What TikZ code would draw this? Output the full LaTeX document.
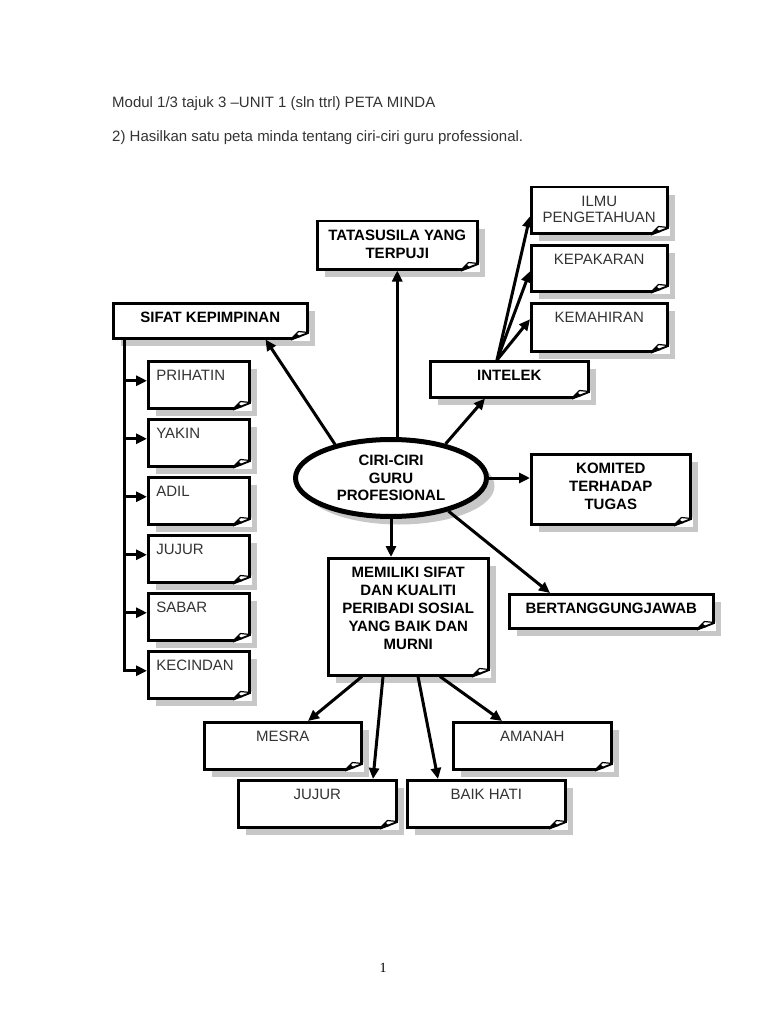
\documentclass[tikz,border=0pt]{standalone}
\usepackage{fontspec}
\setmainfont{Liberation Sans}
\newfontfamily\pagefont{Liberation Serif}
\usepackage{tikz}
\usetikzlibrary{positioning}
\usetikzlibrary{shapes.geometric, arrows.meta, shadows}

\tikzset{
    shad/.style={drop shadow={shadow xshift=8pt, shadow yshift=-8pt, fill=black!22, opacity=1}},
    box/.style={draw, fill=white, line width=2.5pt, anchor=north west, inner sep=0pt, shad,
        text=black!80, font=\fontsize{15}{18}\selectfont},
    bbox/.style={box, text=black, font=\fontsize{15}{18}\selectfont\bfseries},
    arr/.style={line width=3pt, -{Triangle[length=11pt,width=10pt]}},
    plain/.style={anchor=base west, inner sep=0pt, text=black!80, font=\fontsize{15}{17}\selectfont}
}
% text inside the boxes: width, height, text
\newcommand{\ctext}[3]{\parbox[t][#2pt][t]{#1pt}{\centering\rule{0pt}{19pt}#3}}
\newcommand{\ltext}[3]{\parbox[t][#2pt][t]{#1pt}{\raggedright\hspace*{8pt}\rule{0pt}{19pt}#3}}
% folded corner
\newcommand{\fold}[1]{%
    \fill[white] ([xshift=-19pt,yshift=-1.3pt]#1.south east) -- ([xshift=1.3pt,yshift=-1.3pt]#1.south east)
        -- ([xshift=1.3pt,yshift=8pt]#1.south east) -- cycle;
    \draw[line width=2.5pt, line join=round] ([xshift=-18pt]#1.south east) -- ([yshift=7pt]#1.south east);
    \filldraw[fill=white, line width=1.2pt, line join=round] ([xshift=-18pt]#1.south east)
        -- ([xshift=-10pt,yshift=8pt]#1.south east) -- ([yshift=7pt]#1.south east) -- cycle;
    \fill[black] ([xshift=-18pt]#1.south east) -- ([xshift=-12pt,yshift=6pt]#1.south east)
        -- ([xshift=-8pt,yshift=2.5pt]#1.south east) -- cycle;
}

\begin{document}
\begin{tikzpicture}[x=1pt, y=-1pt]
    \useasboundingbox (0,0) rectangle (768,1024);

    % heading
    \node[plain] (title) at (112,108) {Modul 1/3 tajuk 3 –UNIT 1 (sln ttrl) PETA MINDA};
    \node[plain] (task) at (112,142) {2) Hasilkan satu peta minda tentang ciri-ciri guru professional.};

    % centre
    \node[ellipse, draw, line width=5pt, fill=white, shad, minimum width=191pt, minimum height=77pt,
        align=center, font=\fontsize{15}{17.5}\selectfont\bfseries] (ciri) at (391,478) {CIRI-CIRI\\GURU\\PROFESIONAL};

    % boxes
    \node[bbox] (tata) at (316,220) {\ctext{160}{48}{TATASUSILA YANG\\TERPUJI}};
    \node[box] (ilmu) at (530,186) {\ctext{136}{46}{ILMU\\[-2pt]PENGETAHUAN}};
    \node[box] (kepakaran) at (530,244) {\ctext{136}{46}{KEPAKARAN}};
    \node[box] (kemahiran) at (530,302) {\ctext{136}{48}{KEMAHIRAN}};
    \node[bbox] (intelek) at (429,360) {\ctext{158}{36}{INTELEK}};
    \node[bbox] (sifat) at (112,302) {\ctext{194}{35}{SIFAT KEPIMPINAN}};
    \node[box] (prihatin) at (147,360) {\ltext{101}{47}{PRIHATIN}};
    \node[box] (yakin) at (147,418) {\ltext{101}{47}{YAKIN}};
    \node[box] (adil) at (147,476) {\ltext{101}{47}{ADIL}};
    \node[box] (jujurA) at (147,534) {\ltext{101}{47}{JUJUR}};
    \node[box] (sabar) at (147,592) {\ltext{101}{47}{SABAR}};
    \node[box] (kecindan) at (147,650) {\ltext{101}{47}{KECINDAN}};
    \node[bbox] (komited) at (530,453) {\ctext{159}{70}{KOMITED\\TERHADAP\\TUGAS}};
    \node[bbox] (bert) at (508,593) {\ctext{204}{34}{BERTANGGUNGJAWAB}};
    \node[bbox] (memiliki) at (327,557) {\ctext{160}{117}{MEMILIKI SIFAT\\DAN KUALITI\\PERIBADI SOSIAL\\YANG BAIK DAN\\MURNI}};
    \node[box] (mesra) at (203,721) {\ctext{157}{47}{MESRA}};
    \node[box] (amanah) at (452,721) {\ctext{158}{47}{AMANAH}};
    \node[box] (jujurB) at (237,779) {\ctext{158}{47}{JUJUR}};
    \node[box] (baik) at (406,779) {\ctext{158}{47}{BAIK HATI}};

    \foreach \n in {tata,ilmu,kepakaran,kemahiran,intelek,sifat,prihatin,yakin,adil,jujurA,sabar,kecindan,
        komited,bert,memiliki,mesra,amanah,jujurB,baik}
        \fold{\n};

    % arrows from the centre
    \draw[arr] (ciri.north -| tata.south) -- (tata.south);
    \draw[arr] (ciri.149) -- ([xshift=-43pt]sifat.south east);
    \draw[arr] (ciri.32) -- ([xshift=56pt]intelek.south west);
    \draw[arr] (ciri.east) -- (ciri.east -| komited.west);
    \draw[arr] (ciri.-30) -- ([xshift=42pt]bert.north west);
    \draw[arr] (ciri.south) -- (ciri.south |- memiliki.north);

    % intelek
    \foreach \n/\dy in {ilmu/-6, kepakaran/-3, kemahiran/8}
        \draw[arr] ([xshift=68pt]intelek.north west) -- ([yshift=\dy pt]\n.west);

    % sifat kepimpinan
    \coordinate (trunk) at ([xshift=12pt]sifat.south west);
    \path ([yshift=4pt]kecindan.west) coordinate (last);
    \draw[arr] (trunk) |- (last);
    \foreach \n in {prihatin,yakin,adil,jujurA,sabar} {
        \path ([yshift=4pt]\n.west) coordinate (tip);
        \draw[arr] (trunk |- tip) -- (tip);
    }

    % memiliki sifat
    \draw[arr] ([xshift=35pt]memiliki.south west) -- ([xshift=105pt]mesra.north west);
    \draw[arr] ([xshift=56pt]memiliki.south west) -- ([xshift=136pt]jujurB.north west);
    \draw[arr] ([xshift=91pt]memiliki.south west) -- ([xshift=32pt]baik.north west);
    \draw[arr] ([xshift=113pt]memiliki.south west) -- ([xshift=50pt]amanah.north west);

    \node[font=\pagefont\fontsize{14}{17}\selectfont] (pageno) at (383,968) {1};
\end{tikzpicture}
\end{document}
